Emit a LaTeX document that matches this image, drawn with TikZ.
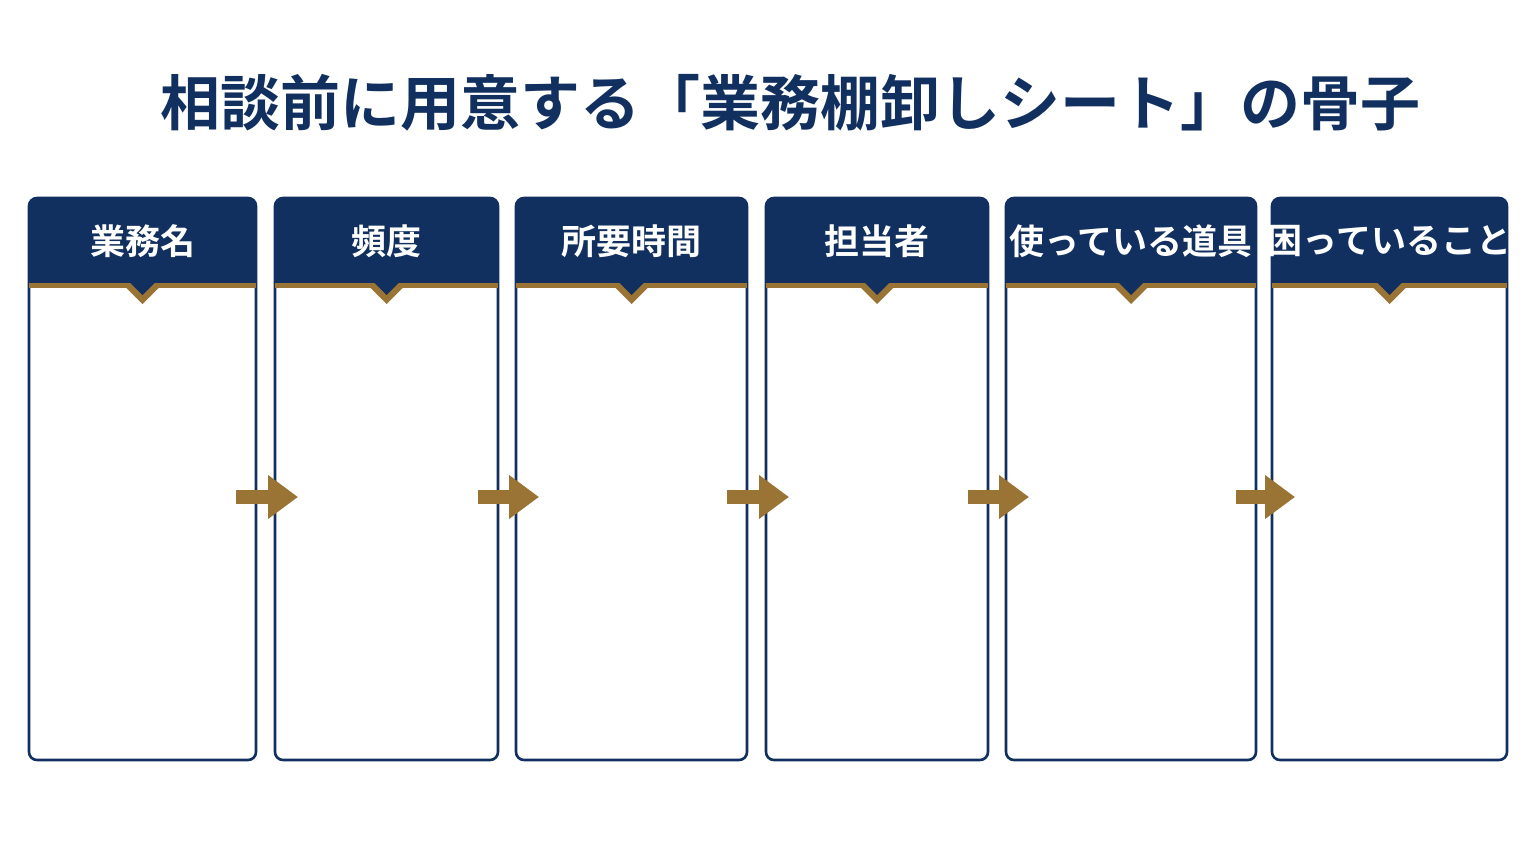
\documentclass[tikz,border=0pt]{standalone}
\usepackage{fontspec}
\setmainfont{Noto Sans CJK JP}[BoldFont={Noto Sans CJK JP Bold}]
\usetikzlibrary{positioning,arrows.meta,calc}
\definecolor{navy}{HTML}{12305F}
\definecolor{gold}{HTML}{9A7434}
\tikzset{
  sheet/.style={draw=navy,line width=2.6pt,rounded corners=8pt,fill=white},
  head/.style={fill=navy},
  headtext/.style={text=white,font=\bfseries\fontsize{35}{40}\selectfont},
  flow/.style={gold,line width=14pt,-{Triangle[width=42pt,length=30pt]},shorten >=0pt}
}
\begin{document}
\begin{tikzpicture}[x=1pt,y=-1pt]
\useasboundingbox (0,0) rectangle (1536,864);
\fill[white] (0,0) rectangle (1536,864);
\node[text=navy,font=\bfseries\fontsize{60}{66}\selectfont] (title) at (790,103) {相談前に用意する「業務棚卸しシート」の骨子};

\foreach \l/\r/\n/\t in {29/256/a/業務名,275/498/b/頻度,516/747/c/所要時間,766/988/d/担当者,1006/1256/e/使っている道具,1272/1507/f/困っていること}{
  \draw[sheet] (\l,198) rectangle (\r,760);
  \fill[head,rounded corners=8pt] (\l,198) -- (\l,286) -- (\r,286) -- (\r,198) -- cycle;
  \fill[head] (\l,250) rectangle (\r,286);
  \fill[gold] (\l,283) rectangle (\r,288);
  \fill[gold] ({(\l+\r)/2-18},286) -- ({(\l+\r)/2},304) -- ({(\l+\r)/2+18},286) -- cycle;
  \fill[head] ({(\l+\r)/2-12},283) -- ({(\l+\r)/2},295) -- ({(\l+\r)/2+12},283) -- cycle;
  \node[headtext] (\n) at ({(\l+\r)/2},241) {\t};
  \coordinate (\n-w) at (\l,497);
  \coordinate (\n-e) at (\r,497);
}

\foreach \p/\q in {a/b,b/c,c/d,d/e,e/f}
  \draw[flow] ([xshift=-20pt]\p-e) -- ([xshift=23pt]\q-w);
\end{tikzpicture}
\end{document}
